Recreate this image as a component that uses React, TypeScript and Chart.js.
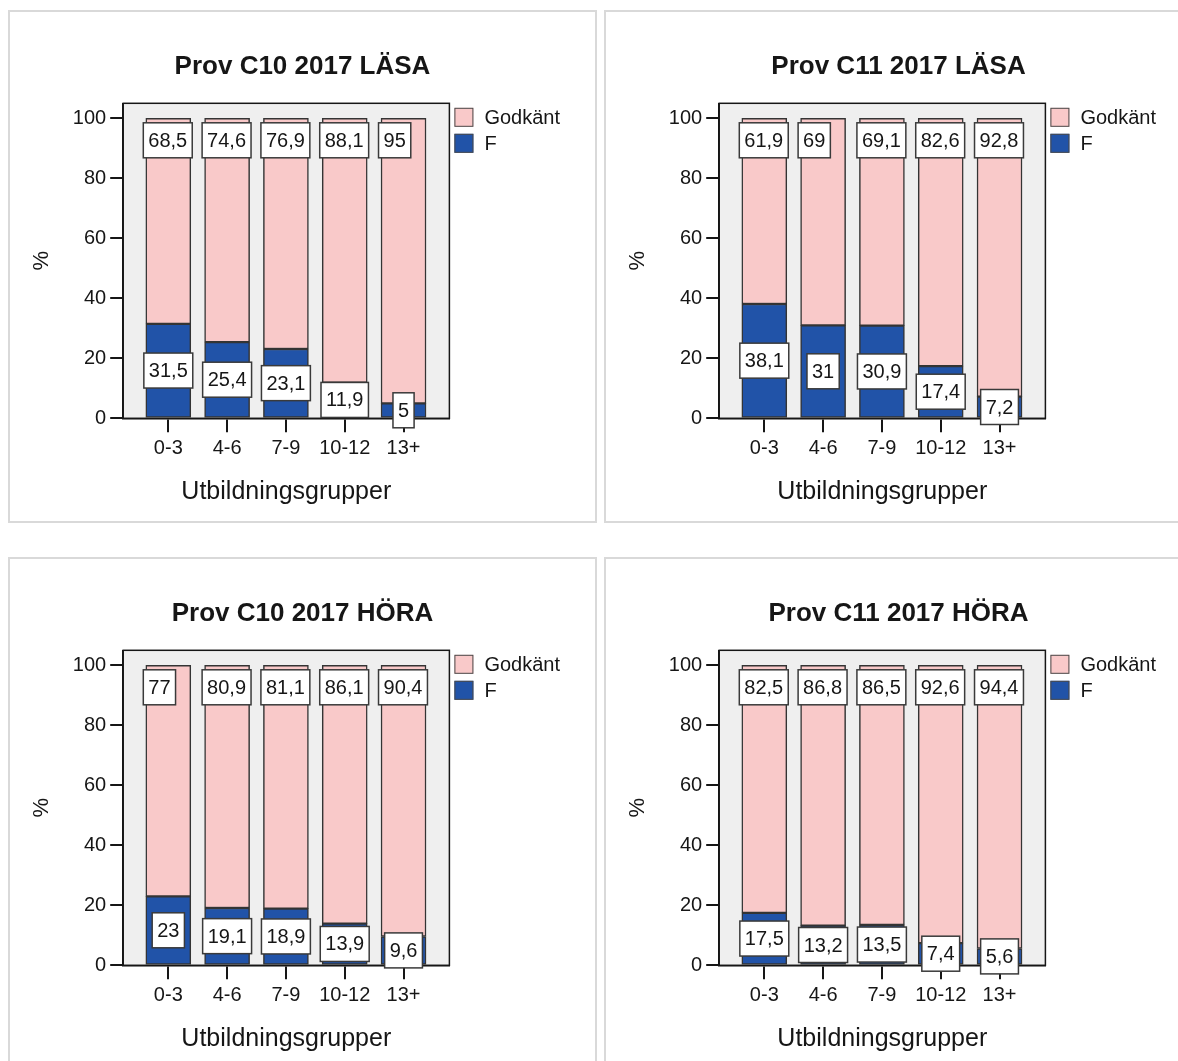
import React, { useEffect, useRef } from 'react';
import { Chart, registerables } from 'chart.js';

Chart.register(...registerables);

// ---------- data ----------
const categories = ['0-3', '4-6', '7-9', '10-12', '13+'];
const seriesNames = ['F', 'Godkänt'];
const yTicks = [0, 20, 40, 60, 80, 100];

const c10LasaF = [31.5, 25.4, 23.1, 11.9, 5];
const c10LasaGodkant = [68.5, 74.6, 76.9, 88.1, 95];

const c11LasaF = [38.1, 31, 30.9, 17.4, 7.2];
const c11LasaGodkant = [61.9, 69, 69.1, 82.6, 92.8];

const c10HoraF = [23, 19.1, 18.9, 13.9, 9.6];
const c10HoraGodkant = [77, 80.9, 81.1, 86.1, 90.4];

const c11HoraF = [17.5, 13.2, 13.5, 7.4, 5.6];
const c11HoraGodkant = [82.5, 86.8, 86.5, 92.6, 94.4];

const chartTitles = [
  'Prov C10 2017 LÄSA',
  'Prov C11 2017 LÄSA',
  'Prov C10 2017 HÖRA',
  'Prov C11 2017 HÖRA',
];
const xAxisTitle = 'Utbildningsgrupper';
const yAxisTitle = '%';

// ---------- styles ----------
const FONT = "'Liberation Sans', Arial, Helvetica, sans-serif";
const PINK = '#f9c9c9';
const BLUE = '#2153a8';
const EDGE = '#343434';
const INK = '#161616';
const PLOT_BG = '#efefef';

Chart.defaults.font.family = FONT;
Chart.defaults.color = INK;

const framePlugin = {
  id: 'spssFrame',
  beforeDraw(chart: any) {
    const { ctx, chartArea: a } = chart;
    ctx.save();
    ctx.fillStyle = PLOT_BG;
    ctx.fillRect(a.left, a.top, a.right - a.left, a.bottom - a.top);
    ctx.restore();
  },
  beforeDatasetsDraw(chart: any) {
    const { ctx, chartArea: a } = chart;
    ctx.save();
    ctx.strokeStyle = INK;
    ctx.lineWidth = 1.5;
    ctx.strokeRect(a.left, a.top, a.right - a.left, a.bottom - a.top);
    ctx.restore();
  },
};

const labelPlugin = {
  id: 'boxLabels',
  afterDatasetsDraw(chart: any) {
    const ctx = chart.ctx;
    ctx.save();
    ctx.font = `20px ${FONT}`;
    chart.data.datasets.forEach((ds: any, di: number) => {
      const meta = chart.getDatasetMeta(di);
      meta.data.forEach((bar: any, i: number) => {
        const { x, y, base } = bar.getProps(['x', 'y', 'base'], true);
        const v = ds.data[i].y;
        const text = String(v).replace('.', ',');
        const tw = ctx.measureText(text).width;
        const w = tw + 10;
        const h = 35;
        let left: number;
        let top: number;
        if (di === 0) {
          left = x - w / 2;
          top = (y + base) / 2 - h / 2;
        } else {
          left = x - Math.max(w, 50) / 2;
          top = y + 4.5;
        }
        ctx.fillStyle = '#ffffff';
        ctx.fillRect(left, top, w, h);
        ctx.strokeStyle = '#3a3a3a';
        ctx.lineWidth = 1.5;
        ctx.strokeRect(left, top, w, h);
        ctx.fillStyle = INK;
        ctx.textAlign = 'center';
        ctx.textBaseline = 'middle';
        ctx.fillText(text, left + w / 2, top + h / 2 + 1);
      });
    });
    ctx.restore();
  },
};

const legendPlugin = {
  id: 'sideLegend',
  afterDraw(chart: any) {
    const { ctx, chartArea: a } = chart;
    const items = chart.data.datasets.slice().reverse();
    ctx.save();
    ctx.font = `20px ${FONT}`;
    items.forEach((ds: any, k: number) => {
      const cy = a.top + 14 + k * 26;
      const sx = a.right + 5;
      ctx.fillStyle = ds.backgroundColor;
      ctx.fillRect(sx, cy - 9.5, 19, 19);
      ctx.strokeStyle = '#4a4a4a';
      ctx.lineWidth = 1;
      ctx.strokeRect(sx + 0.5, cy - 9, 18, 18);
      ctx.fillStyle = INK;
      ctx.textAlign = 'left';
      ctx.textBaseline = 'middle';
      ctx.fillText(ds.label, a.right + 35, cy + 1);
    });
    ctx.restore();
  },
};

function buildConfig(title: string, fail: number[], godkant: number[]): any {
  const toPoints = (vals: number[]) => vals.map((v, i) => ({ x: i, y: v }));
  return {
    type: 'bar',
    data: {
      datasets: [
        {
          label: seriesNames[0],
          data: toPoints(fail),
          backgroundColor: BLUE,
          borderColor: EDGE,
          borderWidth: 1.5,
          borderSkipped: false,
          barThickness: 45,
        },
        {
          label: seriesNames[1],
          data: toPoints(godkant),
          backgroundColor: PINK,
          borderColor: EDGE,
          borderWidth: 1.5,
          borderSkipped: false,
          barThickness: 45,
        },
      ],
    },
    options: {
      animation: false,
      responsive: false,
      maintainAspectRatio: false,
      devicePixelRatio: 1,
      events: [],
      layout: { padding: 0 },
      plugins: {
        legend: { display: false },
        tooltip: { enabled: false },
        title: {
          display: true,
          text: title,
          color: INK,
          font: { size: 26, weight: 'bold', family: FONT },
          padding: { top: 39.2, bottom: 20.9 },
        },
      },
      scales: {
        x: {
          type: 'linear',
          min: -0.767,
          max: 4.78,
          stacked: true,
          offset: false,
          ticks: {
            stepSize: 1,
            includeBounds: false,
            autoSkip: false,
            maxRotation: 0,
            padding: 4,
            color: INK,
            font: { size: 20 },
            callback: (v: number) => categories[v] ?? '',
          },
          grid: {
            display: true,
            offset: false,
            drawOnChartArea: false,
            drawTicks: true,
            tickLength: 14,
            color: INK,
            lineWidth: 2,
          },
          border: { display: true, color: INK, width: 1.5 },
          title: {
            display: true,
            text: xAxisTitle,
            color: INK,
            font: { size: 25 },
            padding: { top: 0, bottom: 13.4 },
          },
          afterFit: (s: any) => {
            s.height = 102.7;
          },
        },
        y: {
          type: 'linear',
          min: 0,
          max: 105,
          stacked: true,
          afterBuildTicks: (s: any) => {
            s.ticks = yTicks.map((v) => ({ value: v }));
          },
          ticks: {
            stepSize: 20,
            includeBounds: false,
            padding: 4,
            color: INK,
            font: { size: 20 },
          },
          grid: {
            display: true,
            drawOnChartArea: false,
            drawTicks: true,
            tickLength: 13,
            color: INK,
            lineWidth: 2,
          },
          border: { display: true, color: INK, width: 1.5 },
          title: {
            display: true,
            text: yAxisTitle,
            color: INK,
            font: { size: 22 },
            padding: { top: 18.5, bottom: 0 },
          },
          afterFit: (s: any) => {
            s.width = 113.2;
          },
        },
        legendSpace: {
          type: 'linear',
          position: 'right',
          display: true,
          grid: { display: false, drawTicks: false },
          border: { display: false },
          ticks: { display: false },
          afterFit: (s: any) => {
            s.width = 145.6;
          },
        },
      },
    },
    plugins: [framePlugin, labelPlugin, legendPlugin],
  };
}

const CANVAS_W = 585;
const CANVAS_H = 509;

function Panel(props: { title: string; fail: number[]; godkant: number[]; left: number; top: number }) {
  const ref = useRef<HTMLCanvasElement>(null);
  useEffect(() => {
    if (!ref.current) return;
    const chart = new Chart(ref.current, buildConfig(props.title, props.fail, props.godkant));
    return () => chart.destroy();
  }, []);
  return (
    <div
      style={{
        position: 'absolute',
        left: props.left,
        top: props.top,
        width: CANVAS_W + 4,
        height: CANVAS_H + 4,
        border: '2px solid #d9d9d9',
        boxSizing: 'border-box',
        background: '#ffffff',
      }}
    >
      <canvas
        ref={ref}
        width={CANVAS_W}
        height={CANVAS_H}
        style={{ display: 'block', width: CANVAS_W, height: CANVAS_H }}
      />
    </div>
  );
}

export default function App() {
  return (
    <div
      style={{
        position: 'fixed',
        left: 0,
        top: 0,
        width: 1178,
        height: 1061,
        overflow: 'hidden',
        background: '#ffffff',
      }}
    >
      <Panel title={chartTitles[0]} fail={c10LasaF} godkant={c10LasaGodkant} left={8} top={10} />
      <Panel title={chartTitles[1]} fail={c11LasaF} godkant={c11LasaGodkant} left={604} top={10} />
      <Panel title={chartTitles[2]} fail={c10HoraF} godkant={c10HoraGodkant} left={8} top={557} />
      <Panel title={chartTitles[3]} fail={c11HoraF} godkant={c11HoraGodkant} left={604} top={557} />
    </div>
  );
}
